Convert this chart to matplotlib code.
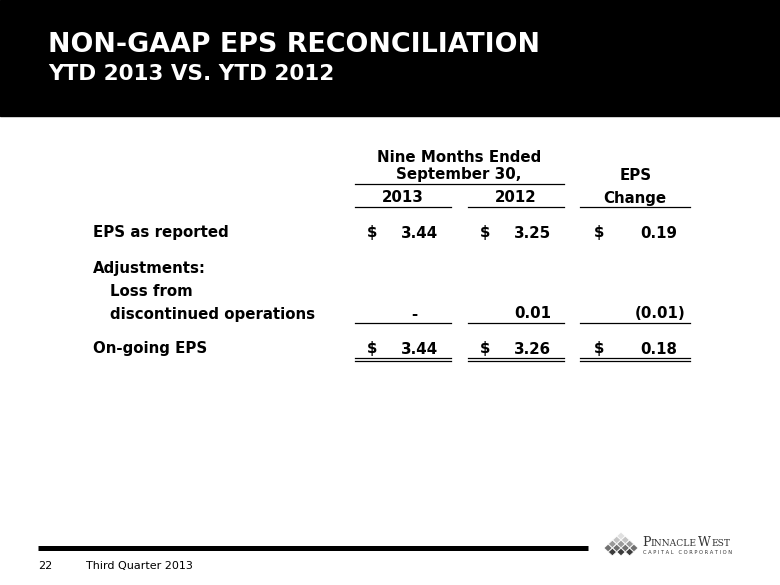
import matplotlib.pyplot as plt
from matplotlib.patches import Polygon, Rectangle

# table data
years = ["2013", "2012"]
eps_reported = [3.44, 3.25]
loss_discontinued = [0.00, 0.01]
ongoing_eps = [3.44, 3.26]
eps_change = [0.19, -0.01, 0.18]

row_labels = ["EPS as reported", "Adjustments:", "Loss from", "discontinued operations", "On-going EPS"]


def fmt(v):
    if v == 0:
        return "-"
    if v < 0:
        return "(%.2f)" % abs(v)
    return "%.2f" % v


fig = plt.figure(figsize=(7.8, 5.85), dpi=100)
ax = fig.add_axes([0, 0, 1, 1])
ax.set_xlim(0, 780)
ax.set_ylim(585, 0)
ax.axis("off")

# black header band
ax.add_patch(Rectangle((0, 0), 780, 116, color="black"))
ax.text(48, 45, "NON-GAAP EPS RECONCILIATION", color="white", fontsize=19.4,
        fontweight="bold", va="center", ha="left")
ax.text(48, 74.5, "YTD 2013 VS. YTD 2012", color="white", fontsize=15.5,
        fontweight="bold", va="center", ha="left")

tkw = dict(fontsize=10.8, fontweight="bold", va="center", color="black")

# column headers
ax.text(459, 157, "Nine Months Ended", ha="center", **tkw)
ax.text(459, 175, "September 30,", ha="center", **tkw)
ax.text(636, 175, "EPS", ha="center", **tkw)
ax.plot([355, 564], [183.5, 183.5], color="black", lw=0.9)

col_l = [355, 468, 580]
col_r = [451, 564, 690]
dollar_x = [372, 485, 599]
value_x = [438, 551, 677]
heads = years + ["Change"]
for i in range(3):
    ax.text((col_l[i] + col_r[i]) / 2, 198, heads[i], ha="center", **tkw)
    ax.plot([col_l[i], col_r[i]], [207, 207], color="black", lw=0.9)

# row labels
ax.text(93, 233, row_labels[0], ha="left", **tkw)
ax.text(93, 268, row_labels[1], ha="left", **tkw)
ax.text(110, 291, row_labels[2], ha="left", **tkw)
ax.text(110, 314, row_labels[3], ha="left", **tkw)
ax.text(93, 349, row_labels[4], ha="left", **tkw)

reported = eps_reported + [eps_change[0]]
adjust = loss_discontinued + [eps_change[1]]
ongoing = ongoing_eps + [eps_change[2]]

for i in range(3):
    # EPS as reported
    ax.text(dollar_x[i], 233, "$", ha="center", **tkw)
    ax.text(value_x[i], 233, fmt(reported[i]), ha="right", **tkw)
    # adjustments
    s = fmt(adjust[i])
    if s == "-":
        ax.text(value_x[i] - 24, 314, s, ha="center", **tkw)
    elif s.startswith("("):
        ax.text(value_x[i] + 8, 314, s, ha="right", **tkw)
    else:
        ax.text(value_x[i], 314, s, ha="right", **tkw)
    ax.plot([col_l[i], col_r[i]], [323, 323], color="black", lw=0.9)
    # on-going
    ax.text(dollar_x[i], 349, "$", ha="center", **tkw)
    ax.text(value_x[i], 349, fmt(ongoing[i]), ha="right", **tkw)
    ax.plot([col_l[i], col_r[i]], [358, 358], color="black", lw=0.9)
    ax.plot([col_l[i], col_r[i]], [361, 361], color="black", lw=0.9)

# footer
ax.plot([38, 588], [547.5, 547.5], color="black", lw=3.6, solid_capstyle="butt")
ax.text(38, 566, "22", fontsize=8, va="center", ha="left")
ax.text(86, 566, "Third Quarter 2013", fontsize=8, va="center", ha="left")

# logo diamonds
rows = [(1, 536, "#e0e0e0"), (2, 540, "#c4c4c4"), (3, 544, "#9a9a9a"), (4, 548, "#707070"),
        (3, 552, "#3c3c3c")]
for n, yc, col in rows:
    for k in range(n):
        xc = 621 - (n - 1) * 4.3 + k * 8.6
        ax.add_patch(Polygon([(xc, yc - 3.8), (xc + 4.1, yc), (xc, yc + 3.8), (xc - 4.1, yc)],
                             closed=True, facecolor=col, edgecolor="white", lw=0.5))
ax.text(642, 542, "P", fontsize=9, family="DejaVu Serif",
        color="#333333", va="center", ha="left")
ax.text(650, 543, "INNACLE", fontsize=6.6, family="DejaVu Serif",
        color="#333333", va="center", ha="left")
ax.text(698, 542, "W", fontsize=9, family="DejaVu Serif",
        color="#333333", va="center", ha="left")
ax.text(711, 543, "EST", fontsize=6.6, family="DejaVu Serif",
        color="#333333", va="center", ha="left")
ax.text(643, 552.5, "C A P I T A L   C O R P O R A T I O N", fontsize=3.7,
        color="#333333", va="center", ha="left")

fig.savefig("out.png", dpi=100)
